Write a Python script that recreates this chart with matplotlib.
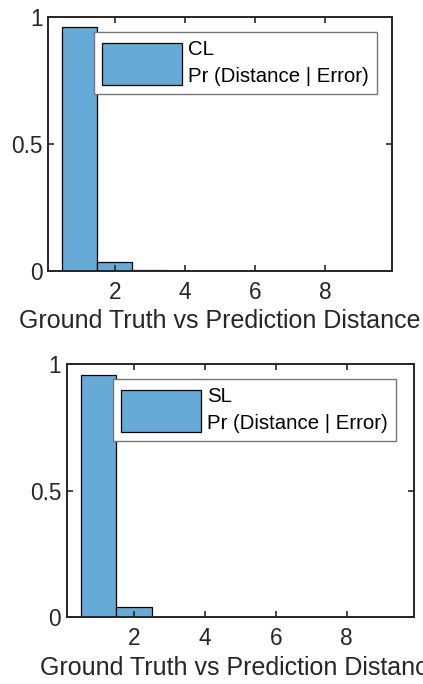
import numpy as np
import matplotlib
matplotlib.use("Agg")
from matplotlib import pyplot as plt

plt.rcParams['font.family'] = ['Liberation Sans', 'DejaVu Sans']

# histogram bins (unit width, centred on integers 1..9)
bin_edges = [0.5, 1.5, 2.5, 3.5, 4.5, 5.5, 6.5, 7.5, 8.5, 9.5]
cl_prob = [0.959, 0.034, 0.002, 0.0005, 0.0, 0.0, 0.0, 0.0, 0.0]
sl_prob = [0.957, 0.040, 0.002, 0.001, 0.0, 0.0, 0.0, 0.0, 0.0]
panel_names = ["CL", "SL"]
xtick_vals = [2, 4, 6, 8]
ytick_vals = [0, 0.5, 1]
ytick_labels = ["0", "0.5", "1"]
xlabel_text = "Ground Truth vs Prediction Distance"
legend_suffix = "Pr (Distance | Error)"

bar_color = "#66aad7"
axis_color = "#262626"

fig = plt.figure(figsize=(4.23, 6.84), dpi=100)
positions = [[0.1135, 0.6038, 0.8132, 0.3713],
             [0.1577, 0.0975, 0.8210, 0.3703]]

for pos, probs, name in zip(positions, [cl_prob, sl_prob], panel_names):
    ax = fig.add_axes(pos)
    widths = np.diff(bin_edges)
    ax.bar(bin_edges[:-1], probs, width=widths, align='edge',
           color=bar_color, edgecolor='black', linewidth=0.9,
           label=name + "\n" + legend_suffix)
    ax.set_xlim(0.1, 9.9)
    ax.set_ylim(0, 1)
    ax.set_xticks(xtick_vals)
    ax.set_yticks(ytick_vals)
    ax.set_yticklabels(ytick_labels)
    ax.tick_params(direction='in', length=4, width=1.2, top=True, right=True,
                   labelsize=16.3, colors=axis_color)
    ax.tick_params(axis='x', pad=7)
    ax.tick_params(axis='y', pad=4)
    for s in ax.spines.values():
        s.set_linewidth(1.4)
        s.set_color(axis_color)
    ax.set_xlabel(xlabel_text, fontsize=18, color=axis_color, labelpad=4)

    leg = ax.legend(loc='upper left', bbox_to_anchor=(0.134, 0.941),
                    borderaxespad=0, fontsize=14.7, fancybox=False,
                    framealpha=1, edgecolor='#777777',
                    handlelength=3.9, handleheight=2.8,
                    handletextpad=0.3, borderpad=0.4)
    leg.get_frame().set_linewidth(1.0)
    for t in leg.get_texts():
        t.set_linespacing(1.5)
        t.set_color('black')

fig.savefig("out.png", dpi=100)
